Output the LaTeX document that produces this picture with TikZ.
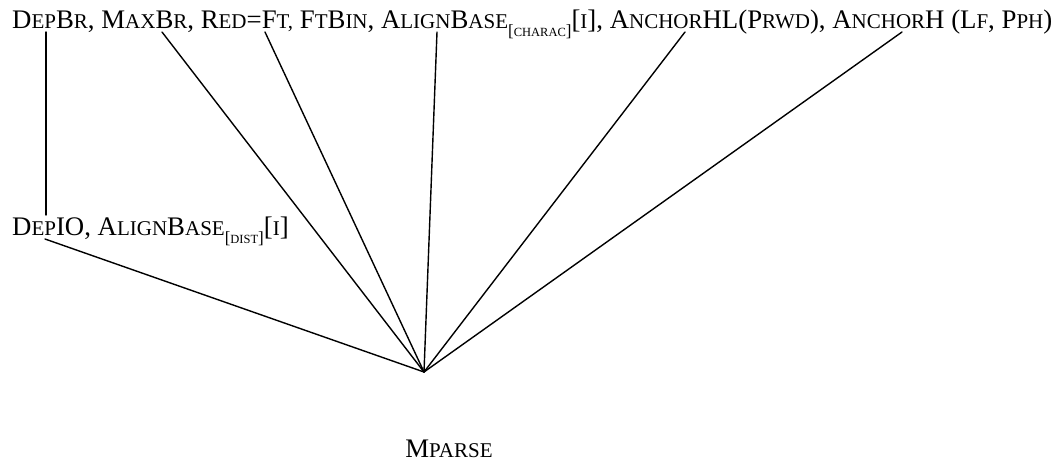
\documentclass[tikz,border=0pt]{standalone}
\usepackage{fontspec}
\setmainfont{Liberation Serif}
\newcommand\smc[1]{{\fontsize{21}{22}\selectfont #1}}
\newcommand\subsc[1]{\raisebox{-0.3em}{\fontsize{17}{17}\selectfont[{\fontsize{12.5}{13}\selectfont #1}]}}
\begin{document}
\begin{tikzpicture}[x=1pt,y=-1pt,
  lbl/.style={inner sep=0pt,font=\fontsize{26.8}{30}\selectfont},
  edge/.style={line width=1.4pt,line cap=round}]
\useasboundingbox (0,0) rectangle (1057,463);
\node[lbl,anchor=base west] (top) at (12,28)
 {D\smc{EP}B\smc{R}, M\smc{AX}B\smc{R}, R\smc{ED}=F\smc{T}\smc{,} F\smc{T}B\smc{IN}, A\smc{LIGN}B\smc{ASE}\subsc{CHARAC}[\smc{I}], A\smc{NCHOR}HL(P\smc{RWD}), A\smc{NCHOR}H (L\smc{F}, P\smc{PH})};
\node[lbl,anchor=base west] (mid) at (12,235)
 {D\smc{EP}IO, A\smc{LIGN}B\smc{ASE}\subsc{DIST}[\smc{I}]};
\node[lbl,anchor=base] (mparse) at (449,457) {M\smc{PARSE}};
\coordinate (root) at (424,372);
\coordinate (t1) at (46,32);
\coordinate (t2) at (162,32);
\coordinate (t3) at (265,32);
\coordinate (t4) at (437,32);
\coordinate (t5) at (685,32);
\coordinate (t6) at (902,32);
\coordinate (m1) at (46,215);
\coordinate (m2) at (45,239);
\draw[edge] (t1) -- (m1);
\draw[edge] (m2) -- (root);
\foreach \p in {t2,t3,t4,t5,t6} \draw[edge] (\p) -- (root);
\end{tikzpicture}
\end{document}
